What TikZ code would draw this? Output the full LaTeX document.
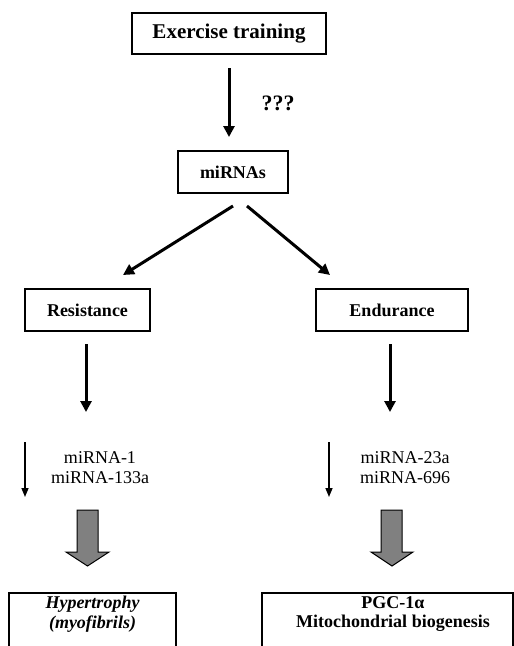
\documentclass[tikz,border=0pt]{standalone}
\usepackage{fontspec}
\setmainfont{Liberation Serif}
\usetikzlibrary{arrows.meta}
\definecolor{blkgray}{HTML}{808080}
\begin{document}
\begin{tikzpicture}[x=1pt,y=-1pt,
  box/.style={draw,line width=1.3pt,inner sep=0pt,font=\fontsize{18}{20}\selectfont\bfseries},
  arr/.style={line width=3pt,-{Triangle[length=11pt,width=11pt]}},
  thinarr/.style={line width=1.5pt,-{Triangle[length=9pt,width=7pt]}},
  lbl/.style={align=center,inner sep=0pt,font=\fontsize{18}{20}\selectfont},
  blk/.style={draw=black,line width=1pt,fill=blkgray},
  frame/.style={draw,line width=1.3pt}]
\useasboundingbox (0,0) rectangle (514,646);
% boxes
\node[box,minimum width=194pt,minimum height=41pt,font=\fontsize{21}{24}\selectfont\bfseries] (ex) at (229,33.5) {Exercise training};
\node[box,minimum width=110pt,minimum height=42pt] (mi) at (233,172) {miRNAs};
\node[box,minimum width=125pt,minimum height=42pt] (res) at (87.5,310) {Resistance};
\node[box,minimum width=152pt,minimum height=42pt] (end) at (392,310) {Endurance};
% top arrow
\coordinate (a1) at (229,68);
\coordinate (a2) at (229,137);
\draw[arr] (a1) -- (a2);
\node[inner sep=0pt,font=\fontsize{22}{24}\selectfont\bfseries] (q) at (278,103) {???};
% diagonals
\coordinate (dl1) at (233,206);
\coordinate (dl2) at (123,275);
\coordinate (dr1) at (247,206);
\coordinate (dr2) at (330,275);
\draw[arr] (dl1) -- (dl2);
\draw[arr] (dr1) -- (dr2);
% verticals
\coordinate (vl1) at (86,344);
\coordinate (vl2) at (86,412);
\coordinate (vr1) at (390,344);
\coordinate (vr2) at (390,412);
\draw[arr] (vl1) -- (vl2);
\draw[arr] (vr1) -- (vr2);
% thin arrows
\coordinate (tl1) at (25,442);
\coordinate (tl2) at (25,497);
\coordinate (tr1) at (329,442);
\coordinate (tr2) at (329,497);
\draw[thinarr] (tl1) -- (tl2);
\draw[thinarr] (tr1) -- (tr2);
% labels
\node[lbl] (ml) at (100,468) {miRNA-1\\miRNA-133a};
\node[lbl] (mr) at (405,468) {miRNA-23a\\miRNA-696};
% block arrows
\path[blk] (77,510) -- (98,510) -- (98,552) -- (109,552) -- (87.5,566) -- (66,552) -- (77,552) -- cycle;
\path[blk] (381,510) -- (402,510) -- (402,552) -- (413,552) -- (392,566) -- (371,552) -- (381,552) -- cycle;
% bottom boxes (cut off)
\draw[frame] (9,647) -- (9,593) -- (176,593) -- (176,647);
\draw[frame] (262,647) -- (262,593) -- (513,593) -- (513,647);
\node[lbl,font=\fontsize{18}{19.5}\selectfont\bfseries\itshape] (hy) at (92.5,614) {Hypertrophy\\(myofibrils)};
\node[lbl,font=\fontsize{18}{19.5}\selectfont\bfseries] (pgc) at (393,614) {PGC-1α\\Mitochondrial biogenesis};
\end{tikzpicture}
\end{document}
